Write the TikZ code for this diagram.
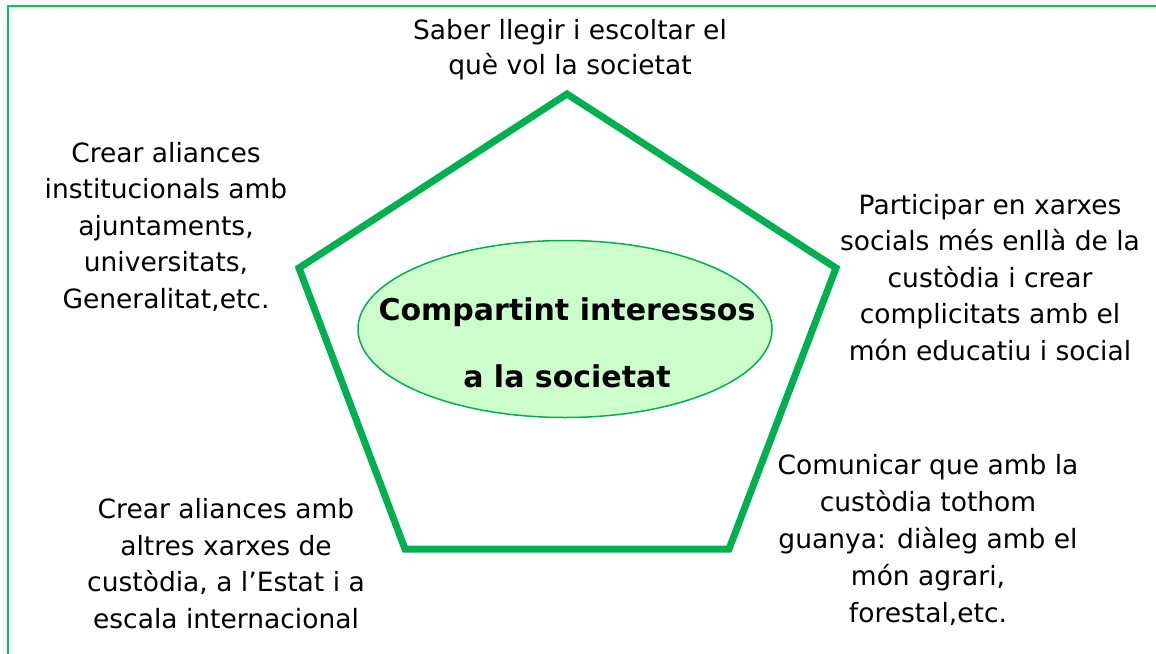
\documentclass[tikz,border=0pt]{standalone}
\usepackage{fontspec}
\setmainfont{DejaVu Sans}
\usetikzlibrary{shapes.geometric}
\definecolor{pentgreen}{RGB}{0,176,80}
\definecolor{framegreen}{RGB}{0,204,80}
\definecolor{ellfill}{RGB}{204,255,204}
\begin{document}
\begin{tikzpicture}[x=1pt,y=-1pt,
  lbl/.style={align=center,inner sep=0pt,anchor=base,font=\fontsize{26.5}{36.5}\selectfont},
  centre/.style={ellipse,draw=pentgreen,line width=1.5pt,fill=ellfill,minimum width=414pt,minimum height=177pt,inner sep=0pt}]
\useasboundingbox (0,0) rectangle (1156,653);
% frame (only top and left edges visible)
\draw[framegreen,line width=2pt] (8,660) -- (8,6) -- (1170,6);
% pentagon
\coordinate (p1) at (567,94);
\coordinate (p2) at (836,268);
\coordinate (p3) at (729,549);
\coordinate (p4) at (405,549);
\coordinate (p5) at (299,268);
\draw[pentgreen,line width=7pt,line join=miter] (p1) -- (p2) -- (p3) -- (p4) -- (p5) -- cycle;
% centre ellipse
\node[centre] (c) at (565,329) {};
\node[lbl,font=\fontsize{30}{67}\selectfont\bfseries] (ct) at (567,387) {Compartint interessos\\a la societat};
% labels (anchored at the baseline of the last line)
\node[lbl,font=\fontsize{26.5}{35}\selectfont] (t) at (570,74) {Saber llegir i escoltar el\\què vol la societat};
\node[lbl] (l) at (166,308) {Crear aliances\\institucionals amb\\ajuntaments,\\universitats,\\Generalitat,etc.};
\node[lbl] (r) at (990,360) {Participar en xarxes\\socials més enllà de la\\custòdia i crear\\complicitats amb el\\món educatiu i social};
\node[lbl,font=\fontsize{26.5}{37}\selectfont] (br) at (928,622) {Comunicar que amb la\\custòdia tothom\\guanya: diàleg amb el\\món agrari,\\forestal,etc.};
\node[lbl] (bl) at (226,628) {Crear aliances amb\\altres xarxes de\\custòdia, a l’Estat i a\\escala internacional};
\end{tikzpicture}
\end{document}
